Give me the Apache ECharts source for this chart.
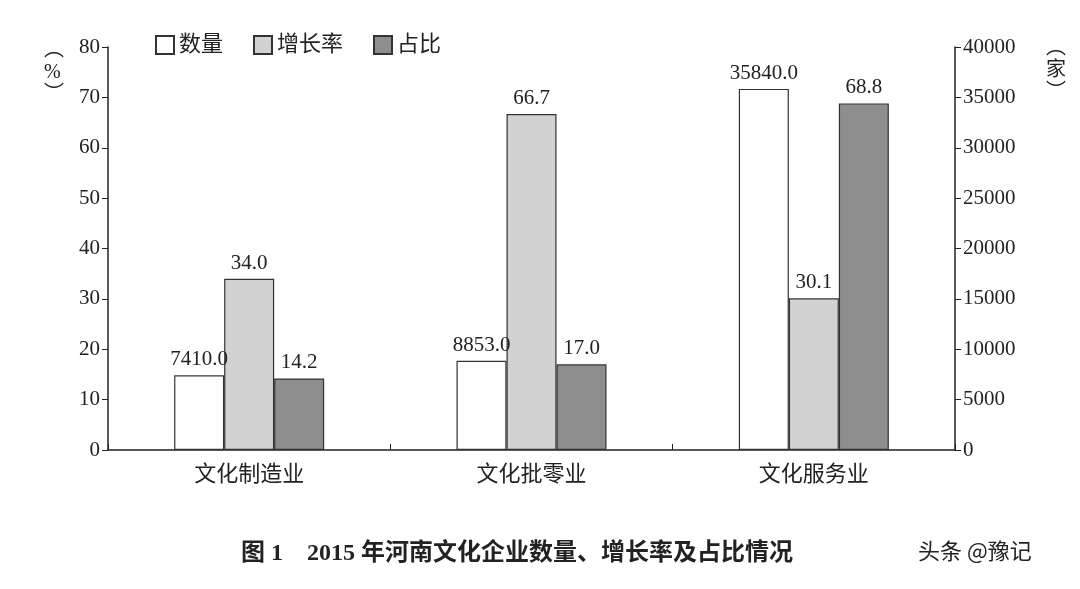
<!DOCTYPE html>
<html><head><meta charset="utf-8">
<script src="https://cdn.jsdelivr.net/npm/echarts@6/dist/echarts.min.js"></script>
<style>html,body{margin:0;background:#fff}#c{width:1080px;height:589px}</style>
</head><body><div id="c"></div>
<script>
var categories = ['文化制造业', '文化批零业', '文化服务业']
var countValues = [7410.0, 8853.0, 35840.0]
var growthValues = [34.0, 66.7, 30.1]
var shareValues = [14.2, 17.0, 68.8]

var FONT = 'Liberation Serif, Noto Sans CJK SC'
var chart = echarts.init(document.getElementById('c'))
var lbl = { show: true, position: 'top', color: '#222', fontSize: 21, fontFamily: FONT, formatter: function (p) { return p.value.toFixed(1) } }
chart.setOption({
  animation: false,
  textStyle: { fontFamily: FONT },
  legend: {
    top: 29, left: 150, itemWidth: 18, itemHeight: 18, itemGap: 30, icon: 'rect',
    textStyle: { fontSize: 22, color: '#222', fontFamily: FONT },
    data: ['数量', '增长率', '占比']
  },
  title: {
    text: '图 1    2015 年河南文化企业数量、增长率及占比情况',
    left: 236, top: 537,
    textStyle: { fontSize: 24, fontWeight: 'bold', color: '#222', fontFamily: FONT }
  },
  graphic: [
    { type: 'text', left: 44, top: 40, style: { text: '︵\n%\n︶', fill: '#222', font: '20px ' + FONT, lineHeight: 22 } },
    { type: 'text', left: 1046, top: 38, style: { text: '︵\n家\n︶', fill: '#222', font: '20px ' + FONT, lineHeight: 22 } },
    { type: 'text', left: 918, top: 540, style: { text: '头条 @豫记', fill: '#222', font: '22px Noto Sans CJK SC' } }
  ],
  grid: { left: 108, right: 125, top: 47, bottom: 139 },
  xAxis: {
    type: 'category', data: categories,
    axisLine: { lineStyle: { color: '#222', width: 1.5 } },
    axisTick: { show: true, inside: true, length: 6, lineStyle: { color: '#222' } },
    axisLabel: { fontSize: 22, color: '#222', margin: 14 }
  },
  yAxis: [
    { type: 'value', min: 0, max: 80, interval: 10,
      axisLine: { show: true, lineStyle: { color: '#222', width: 1.5 } },
      axisTick: { show: true, length: 6, lineStyle: { color: '#222' } },
      axisLabel: { fontSize: 21, color: '#222' }, splitLine: { show: false } },
    { type: 'value', min: 0, max: 40000, interval: 5000, position: 'right',
      axisLine: { show: true, lineStyle: { color: '#222', width: 1.5 } },
      axisTick: { show: true, length: 6, lineStyle: { color: '#222' } },
      axisLabel: { fontSize: 21, color: '#222', formatter: function (v) { return String(v) } }, splitLine: { show: false } }
  ],
  series: [
    { name: '数量', type: 'bar', yAxisIndex: 1, data: countValues, barWidth: 50, barGap: '0%',
      itemStyle: { color: '#fff', borderColor: '#333', borderWidth: 1.2 }, label: lbl },
    { name: '增长率', type: 'bar', data: growthValues, barWidth: 50, barGap: '0%',
      itemStyle: { color: '#d2d2d2', borderColor: '#333', borderWidth: 1.2 }, label: lbl },
    { name: '占比', type: 'bar', data: shareValues, barWidth: 50, barGap: '0%',
      itemStyle: { color: '#8e8e8e', borderColor: '#333', borderWidth: 1.2 }, label: lbl }
  ]
})
</script></body></html>
